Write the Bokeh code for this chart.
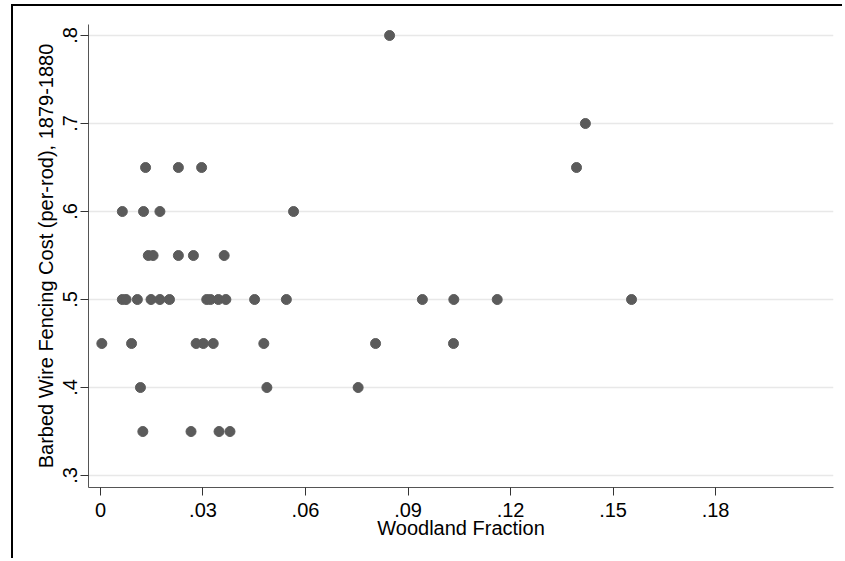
from bokeh.plotting import figure
from bokeh.models import Range1d, FixedTicker
from bokeh.embed import file_html
from bokeh.resources import INLINE

# Data
woodland = [
    0.0846,                                   # .80
    0.1419,                                   # .70
    0.0132, 0.0228, 0.0296, 0.1393,           # .65
    0.0064, 0.0126, 0.0174, 0.0565,           # .60
    0.0140, 0.0154, 0.0228, 0.0272, 0.0362,   # .55
    0.0064, 0.0075, 0.0108, 0.0148, 0.0174, 0.0202, 0.0311, 0.0322,
    0.0345, 0.0367, 0.0451, 0.0544, 0.0942, 0.1034, 0.1161, 0.1554,  # .50
    0.0004, 0.0091, 0.0280, 0.0301, 0.0330, 0.0478, 0.0805, 0.1033,  # .45
    0.0117, 0.0487, 0.0754,                   # .40
    0.0124, 0.0265, 0.0347, 0.0379,           # .35
]
cost = (
    [0.80] + [0.70] + [0.65] * 4 + [0.60] * 4 + [0.55] * 5 + [0.50] * 16
    + [0.45] * 8 + [0.40] * 3 + [0.35] * 4
)

x_ticks = [0, 0.03, 0.06, 0.09, 0.12, 0.15, 0.18]
x_tick_labels = ["0", ".03", ".06", ".09", ".12", ".15", ".18"]
y_ticks = [0.3, 0.4, 0.5, 0.6, 0.7, 0.8]
y_tick_labels = [".3", ".4", ".5", ".6", ".7", ".8"]

x_title = "Woodland Fraction"
y_title = "Barbed Wire Fencing Cost (per-rod), 1879-1880"

FONT = "Liberation Sans"
FS = "20px"

p = figure(
    width=831, height=554,
    x_range=Range1d(-0.0035, 0.2145),
    y_range=Range1d(0.2864, 0.8125),
    output_backend="svg", toolbar_location=None,
    min_border_left=75, min_border_right=11,
    min_border_top=18, min_border_bottom=73,
    background_fill_color="white", border_fill_color="white",
)
# outer graph-region frame (runs past the window on the right and bottom)
p.styles = {
    "margin-left": "11px",
    "margin-top": "4px",
    "border-left": "2px solid black",
    "border-top": "2px solid black",
}
p.outline_line_color = None

p.scatter(woodland, cost, size=10, fill_color="#5b5b5b", line_color="#5b5b5b")

# grid
p.xgrid.visible = False
p.ygrid.ticker = FixedTicker(ticks=y_ticks)
p.ygrid.grid_line_color = "#e8e8e8"
p.ygrid.grid_line_width = 1.5

# x axis
xa = p.xaxis[0]
xa.ticker = FixedTicker(ticks=x_ticks)
xa.major_label_overrides = dict(zip(x_ticks, x_tick_labels))
xa.axis_label = x_title
xa.axis_label_text_font = FONT
xa.axis_label_text_font_size = FS
xa.axis_label_text_font_style = "normal"
xa.axis_label_text_color = "black"
xa.axis_label_standoff = -3
xa.major_label_text_font = FONT
xa.major_label_text_font_size = FS
xa.major_label_text_color = "black"
xa.major_label_standoff = 7
xa.major_tick_out = 8
xa.major_tick_in = 0
xa.minor_tick_line_color = None
xa.axis_line_color = "#555555"
xa.major_tick_line_color = "#333333"

# y axis
ya = p.yaxis[0]
ya.ticker = FixedTicker(ticks=y_ticks)
ya.major_label_overrides = dict(zip(y_ticks, y_tick_labels))
ya.major_label_orientation = "vertical"
ya.axis_label = y_title
ya.axis_label_text_font = FONT
ya.axis_label_text_font_size = FS
ya.axis_label_text_font_style = "normal"
ya.axis_label_text_color = "black"
ya.axis_label_standoff = 4
ya.major_label_text_font = FONT
ya.major_label_text_font_size = FS
ya.major_label_text_color = "black"
ya.major_label_standoff = 3
ya.major_tick_out = 8
ya.major_tick_in = 0
ya.minor_tick_line_color = None
ya.axis_line_color = "#555555"
ya.major_tick_line_color = "#333333"

open("out.html", "w").write(file_html(p, INLINE))
